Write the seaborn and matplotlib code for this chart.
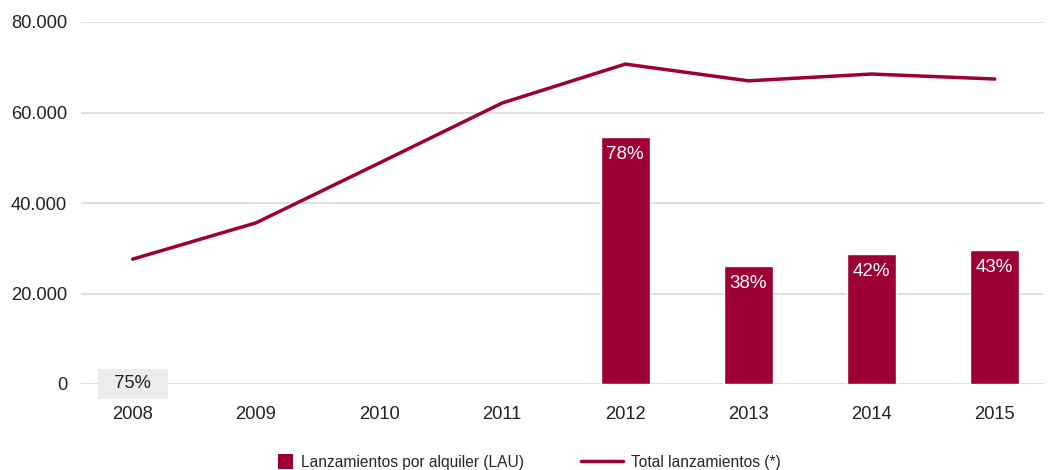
import matplotlib
matplotlib.use("Agg")
import matplotlib.pyplot as plt
import seaborn as sns
import pandas as pd
import numpy as np
from matplotlib.patches import Patch, Rectangle
from matplotlib.lines import Line2D
from matplotlib.legend_handler import HandlerPatch

years = ["2008", "2009", "2010", "2011", "2012", "2013", "2014", "2015"]
lau = [0, np.nan, np.nan, np.nan, 54600, 26100, 28700, 29600]
total = [27600, 35600, 48800, 62100, 70700, 67000, 68500, 67400]
pct_labels = ["75%", "", "", "", "78%", "38%", "42%", "43%"]

color = "#9c0034"

sns.set_theme(style="white")
plt.rcParams["font.family"] = ["Liberation Sans", "DejaVu Sans"]

df = pd.DataFrame({"year": years, "lau": lau, "total": total})

fig = plt.figure(figsize=(10.48, 4.70), dpi=100)
ax = fig.add_axes([81/1048, (470-384)/470, (1044-81)/1048, (384-22)/470])

sns.barplot(data=df, x="year", y="lau", order=years, color=color, width=0.4,
            saturation=1, ax=ax, zorder=2)
sns.pointplot(data=df, x="year", y="total", order=years, color=color,
              marker="", linewidth=2.5, ax=ax, zorder=3)

ax.set_xlim(-0.42, 7.40)
ax.set_ylim(0, 80000)
ax.set_yticks([0, 20000, 40000, 60000, 80000])
ax.set_yticklabels(["0", "20.000", "40.000", "60.000", "80.000"])
ax.yaxis.grid(True, color="#d9d9d9", linewidth=1.2, zorder=0)
ax.set_axisbelow(True)
for s in ax.spines.values():
    s.set_visible(False)
ax.set_xlabel("")
ax.set_ylabel("")
ax.tick_params(axis="both", labelsize=13.2, colors="#222222", length=0)
ax.tick_params(axis="y", pad=10)
ax.tick_params(axis="x", pad=16)

for i, (v, lab) in enumerate(zip(lau, pct_labels)):
    if not lab:
        continue
    if v == 0 or np.isnan(v):
        ax.text(i, 0, "  " + lab + "  ", ha="center", va="center", fontsize=13.2,
                color="#222222",
                bbox=dict(boxstyle="square,pad=0.35", facecolor="#ececec", edgecolor="none"),
                zorder=4)
    else:
        ax.annotate(lab, (i, v), xytext=(0, -12.5), textcoords="offset points",
                    ha="center", va="center", fontsize=13.5, color="white", zorder=4)


def square_patch(legend, orig_handle, xdescent, ydescent, width, height, fontsize):
    s = 10.8
    return Rectangle((-xdescent + width - s, -ydescent + (height - s) / 2), s, s)


handles = [Patch(facecolor=color, edgecolor="none", label="Lanzamientos por alquiler (LAU)"),
           Line2D([0], [0], color=color, linewidth=2.5, label="Total lanzamientos (*)")]
fig.legend(handles=handles, loc="center", bbox_to_anchor=(516/1048, 1 - 462/470), ncol=2,
           frameon=False, fontsize=11.2, handlelength=2.7, handleheight=1.0,
           columnspacing=3.65, handletextpad=0.5,
           handler_map={Patch: HandlerPatch(patch_func=square_patch)})

fig.savefig("out.png", dpi=100)
